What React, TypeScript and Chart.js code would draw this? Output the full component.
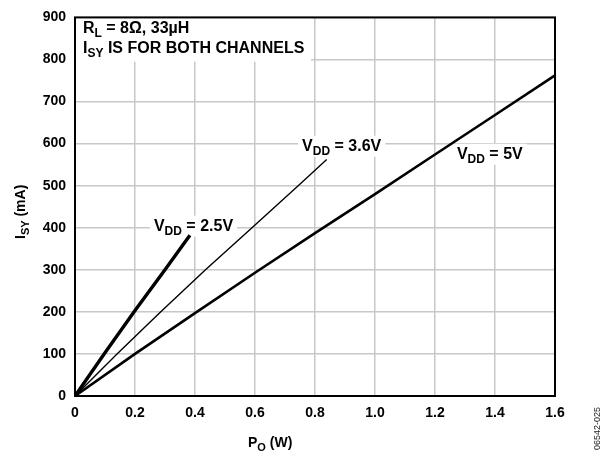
import React, { useEffect, useRef } from 'react';
import { Chart, registerables } from 'chart.js';

Chart.register(...registerables);

// ---- data ----
const xTickLabels = ['0', '0.2', '0.4', '0.6', '0.8', '1.0', '1.2', '1.4', '1.6'];
const yTickLabels = ['0', '100', '200', '300', '400', '500', '600', '700', '800', '900'];

const po25 = [0, 0.1, 0.2, 0.3, 0.383];
const isy25 = [0, 103, 203, 300, 382];

const po36 = [0, 0.14, 0.286, 0.435, 0.59, 0.744, 0.839];
const isy36 = [0, 100, 200, 300, 400, 500, 562];

const po50 = [0, 0.2, 0.4, 0.6, 0.8, 1.0, 1.2, 1.4, 1.6];
const isy50 = [0, 100, 197, 293, 387, 480, 574, 668, 762];

const seriesNames = ['2.5V', '3.6V', '5V'];

const FONT = '"Liberation Sans", Arial, Helvetica, sans-serif';

type Part = { t: string; sub?: boolean };

function drawParts(
  ctx: CanvasRenderingContext2D,
  parts: Part[],
  x: number,
  y: number,
  size: number,
  subSize: number,
  subDy: number
) {
  let cx = x;
  for (const p of parts) {
    ctx.font = `bold ${p.sub ? subSize : size}px ${FONT}`;
    ctx.fillText(p.t, cx, p.sub ? y + subDy : y);
    cx += ctx.measureText(p.t).width;
  }
  return cx - x;
}

function measureParts(ctx: CanvasRenderingContext2D, parts: Part[], size: number, subSize: number) {
  let w = 0;
  for (const p of parts) {
    ctx.font = `bold ${p.sub ? subSize : size}px ${FONT}`;
    w += ctx.measureText(p.t).width;
  }
  return w;
}

const vddLabel = (v: string): Part[] => [{ t: 'V' }, { t: 'DD', sub: true }, { t: ' = ' + v }];

// label anchors in data units (left edge, baseline)
const labelAnchors = [
  { x: 0.263, y: 393 },
  { x: 0.757, y: 583 },
  { x: 1.273, y: 564 },
];

const annotPlugin = {
  id: 'annot',
  beforeDatasetsDraw(chart: any) {
    const ctx: CanvasRenderingContext2D = chart.ctx;
    const xs = chart.scales.x;
    const ys = chart.scales.y;
    const ca = chart.chartArea;
    ctx.save();
    ctx.textBaseline = 'alphabetic';
    ctx.textAlign = 'left';
    // header box
    ctx.fillStyle = '#fff';
    ctx.fillRect(ca.left + 1, ca.top + 1, xs.getPixelForValue(0.783) - ca.left, ys.getPixelForValue(797) - ca.top);
    ctx.fillStyle = '#000';
    drawParts(ctx, [{ t: 'R' }, { t: 'L', sub: true }, { t: ' = 8Ω, 33µH' }], ca.left + 8, ca.top + 16, 16, 12, 4);
    drawParts(ctx, [{ t: 'I' }, { t: 'SY', sub: true }, { t: ' IS FOR BOTH CHANNELS' }], ca.left + 8, ca.top + 35.5, 16, 12, 4);

    // series labels
    seriesNames.forEach((n, i) => {
      const parts = vddLabel(n);
      const px = xs.getPixelForValue(labelAnchors[i].x);
      const py = ys.getPixelForValue(labelAnchors[i].y);
      const w = measureParts(ctx, parts, 16, 12);
      ctx.fillStyle = '#fff';
      ctx.fillRect(px - 4, py - 15, w + 8, 21);
      ctx.fillStyle = '#000';
      drawParts(ctx, parts, px, py, 16, 12, 4);
    });
    ctx.restore();
  },
  afterDatasetsDraw(chart: any) {
    const ctx: CanvasRenderingContext2D = chart.ctx;
    const ca = chart.chartArea;
    ctx.save();
    ctx.strokeStyle = '#000';
    ctx.lineWidth = 2;
    ctx.strokeRect(ca.left, ca.top, ca.right - ca.left, ca.bottom - ca.top);
    ctx.restore();
  },
  afterDraw(chart: any) {
    const ctx: CanvasRenderingContext2D = chart.ctx;
    ctx.save();
    ctx.fillStyle = '#000';
    ctx.textBaseline = 'alphabetic';
    ctx.textAlign = 'left';
    // x title
    drawParts(ctx, [{ t: 'P' }, { t: 'O', sub: true }, { t: ' (W)' }], 248, 447, 14, 11, 4);
    // y title
    ctx.save();
    ctx.translate(25, 239);
    ctx.rotate(-Math.PI / 2);
    drawParts(ctx, [{ t: 'I' }, { t: 'SY', sub: true }, { t: ' (mA)' }], 0, 0, 14, 11, 4);
    ctx.restore();
    // figure id
    ctx.save();
    ctx.translate(600, 450);
    ctx.rotate(-Math.PI / 2);
    ctx.font = `9px ${FONT}`;
    ctx.fillStyle = '#222';
    ctx.fillText('06542-025', 0, 0);
    ctx.restore();
    ctx.restore();
  },
};

const toPts = (xs: number[], ys: number[]) => xs.map((x, i) => ({ x, y: ys[i] }));

export default function App() {
  const ref = useRef<HTMLCanvasElement>(null);
  useEffect(() => {
    const chart = new Chart(ref.current as HTMLCanvasElement, {
      type: 'line',
      data: {
        datasets: [
          { label: seriesNames[0], data: toPts(po25, isy25), borderColor: '#000', borderWidth: 3.4, pointRadius: 0, tension: 0 },
          { label: seriesNames[1], data: toPts(po36, isy36), borderColor: '#000', borderWidth: 1.4, pointRadius: 0, tension: 0 },
          { label: seriesNames[2], data: toPts(po50, isy50), borderColor: '#000', borderWidth: 2.6, pointRadius: 0, tension: 0 },
        ],
      },
      options: {
        animation: false,
        responsive: true,
        maintainAspectRatio: false,
        layout: { padding: { top: 13, right: 53, left: 0, bottom: 0 } },
        plugins: { legend: { display: false }, tooltip: { enabled: false } },
        scales: {
          x: {
            type: 'linear',
            min: 0,
            max: 1.6,
            afterFit: (s: any) => { s.height = 59; },
            grid: { color: '#c8c8c8', lineWidth: 1.5, drawTicks: false },
            border: { display: false },
            ticks: {
              stepSize: 0.2,
              autoSkip: false,
              maxRotation: 0,
              padding: 9,
              color: '#000',
              font: { family: FONT, size: 14, weight: 'bold' },
              callback: (_v: any, i: number) => xTickLabels[i],
            },
          },
          y: {
            type: 'linear',
            min: 0,
            max: 900,
            afterFit: (s: any) => { s.width = 75; },
            grid: { color: '#c8c8c8', lineWidth: 1.5, drawTicks: false },
            border: { display: false },
            ticks: {
              stepSize: 100,
              padding: 9,
              color: '#000',
              font: { family: FONT, size: 14, weight: 'bold' },
              callback: (_v: any, i: number) => yTickLabels[i],
            },
          },
        },
      } as any,
      plugins: [annotPlugin],
    });
    return () => chart.destroy();
  }, []);
  return (
    <div style={{ position: 'absolute', left: 0, top: 0, width: 608, height: 455, background: '#fff' }}>
      <canvas ref={ref} />
    </div>
  );
}
